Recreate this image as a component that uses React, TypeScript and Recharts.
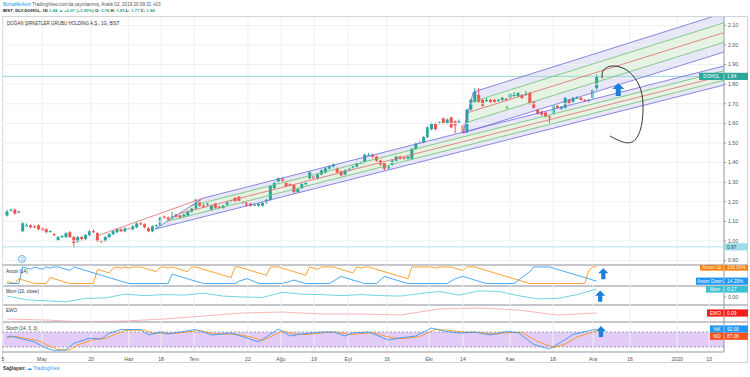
import React from 'react';
import { ComposedChart, Bar, Line, Area, XAxis, YAxis, ReferenceLine, ReferenceDot, Scatter } from 'recharts';

// ---------- DATA ----------
const opens = [1.13,1.155,1.16,1.15,1.05,1.08,1.08,1.075,1.08,1.065,1.06,1.05,1.035,1.005,1.02,1.02,1.045,1.02,0.995,1.02,1.01,1.03,1.05,1.04,1.0,1.0,1.02,1.035,1.045,1.06,1.05,1.065,1.06,1.07,1.09,1.085,1.065,1.05,1.075,1.08,1.125,1.12,1.12,1.135,1.13,1.125,1.13,1.15,1.165,1.205,1.18,1.185,1.16,1.19,1.175,1.17,1.185,1.2,1.22,1.225,1.2,1.2,1.19,1.185,1.18,1.18,1.195,1.21,1.27,1.3,1.32,1.3,1.29,1.285,1.25,1.27,1.29,1.32,1.33,1.32,1.34,1.35,1.37,1.38,1.37,1.355,1.34,1.36,1.375,1.38,1.4,1.4,1.44,1.44,1.43,1.41,1.4,1.37,1.39,1.41,1.43,1.425,1.42,1.42,1.47,1.5,1.5,1.53,1.57,1.6,1.6,1.625,1.6,1.63,1.61,1.61,1.59,1.555,1.67,1.71,1.745,1.72,1.72,1.72,1.72,1.715,1.72,1.725,1.73,1.74,1.74,1.745,1.75,1.755,1.71,1.67,1.66,1.655,1.635,1.65,1.69,1.675,1.68,1.72,1.71,1.73,1.73,1.72,1.715,1.73,1.78];
const highs = [1.16,1.165,1.165,1.155,1.095,1.09,1.085,1.08,1.085,1.07,1.065,1.055,1.04,1.025,1.03,1.045,1.05,1.025,1.025,1.025,1.035,1.055,1.06,1.045,1.005,1.025,1.04,1.055,1.065,1.065,1.07,1.07,1.08,1.095,1.1,1.09,1.07,1.08,1.085,1.125,1.13,1.125,1.15,1.14,1.135,1.14,1.155,1.17,1.215,1.21,1.19,1.195,1.185,1.195,1.18,1.185,1.205,1.21,1.225,1.23,1.205,1.205,1.195,1.19,1.195,1.2,1.215,1.285,1.305,1.325,1.325,1.305,1.295,1.29,1.27,1.295,1.305,1.355,1.335,1.345,1.365,1.375,1.385,1.395,1.375,1.36,1.365,1.375,1.385,1.405,1.405,1.445,1.45,1.445,1.435,1.415,1.405,1.385,1.415,1.435,1.435,1.43,1.435,1.475,1.505,1.51,1.535,1.585,1.605,1.605,1.61,1.63,1.625,1.635,1.615,1.62,1.595,1.675,1.725,1.78,1.78,1.725,1.73,1.725,1.725,1.725,1.735,1.73,1.755,1.76,1.76,1.75,1.765,1.76,1.715,1.675,1.665,1.66,1.64,1.695,1.695,1.69,1.735,1.725,1.735,1.74,1.735,1.725,1.725,1.775,1.85];
const lows = [1.125,1.15,1.135,1.145,1.045,1.075,1.065,1.065,1.055,1.05,1.04,1.045,1.025,1.0,1.015,1.015,1.015,0.965,0.99,1.0,1.005,1.025,1.04,0.995,0.99,0.995,1.015,1.03,1.04,1.045,1.045,1.055,1.055,1.065,1.08,1.065,1.045,1.045,1.07,1.075,1.115,1.105,1.115,1.12,1.115,1.12,1.125,1.145,1.16,1.175,1.17,1.18,1.155,1.165,1.165,1.165,1.18,1.195,1.195,1.2,1.19,1.175,1.175,1.18,1.175,1.175,1.19,1.205,1.265,1.295,1.3,1.275,1.28,1.245,1.245,1.265,1.285,1.315,1.315,1.315,1.335,1.345,1.365,1.375,1.345,1.33,1.335,1.355,1.37,1.375,1.395,1.395,1.435,1.425,1.405,1.385,1.36,1.365,1.385,1.405,1.415,1.415,1.415,1.415,1.465,1.495,1.495,1.525,1.565,1.565,1.595,1.595,1.595,1.575,1.55,1.6,1.545,1.55,1.665,1.705,1.705,1.685,1.71,1.705,1.705,1.71,1.715,1.715,1.725,1.735,1.735,1.725,1.74,1.695,1.675,1.645,1.64,1.63,1.6,1.645,1.675,1.67,1.675,1.695,1.705,1.725,1.715,1.71,1.71,1.725,1.77];
const closes = [1.15,1.16,1.14,1.15,1.09,1.08,1.07,1.07,1.06,1.055,1.045,1.05,1.03,1.02,1.025,1.04,1.02,0.99,1.02,1.01,1.03,1.05,1.045,1.0,0.995,1.02,1.035,1.05,1.06,1.05,1.065,1.06,1.075,1.09,1.085,1.07,1.05,1.075,1.08,1.12,1.12,1.11,1.125,1.125,1.12,1.135,1.15,1.165,1.21,1.18,1.175,1.19,1.18,1.17,1.17,1.18,1.2,1.205,1.2,1.205,1.195,1.18,1.18,1.185,1.19,1.195,1.21,1.28,1.3,1.32,1.305,1.28,1.285,1.25,1.265,1.29,1.3,1.35,1.32,1.34,1.36,1.37,1.38,1.39,1.35,1.335,1.36,1.37,1.38,1.4,1.4,1.44,1.44,1.43,1.41,1.39,1.37,1.38,1.41,1.43,1.42,1.42,1.43,1.47,1.5,1.5,1.53,1.58,1.6,1.57,1.605,1.6,1.62,1.58,1.59,1.61,1.55,1.67,1.72,1.76,1.71,1.69,1.72,1.71,1.71,1.72,1.73,1.72,1.75,1.745,1.755,1.73,1.75,1.7,1.68,1.65,1.645,1.635,1.63,1.69,1.68,1.685,1.73,1.7,1.73,1.73,1.72,1.715,1.72,1.77,1.84];

const tickIdx = [-1, 8.9, 21.4, 31, 39.2, 47.6, 61.3, 69.7, 78.1, 86.8, 96.7, 107.4, 116, 128, 138.9, 149.1, 158.5, 170.5, 178.6];
const tickLabels = ['5', 'May', '20', 'Haz', '18', 'Tem', '22', 'Ağu', '19', 'Eyl', '16', 'Eki', '14', 'Kas', '18', 'Ara', '16', '2020', '13'];
const priceTicks = [0.9, 1.0, 1.1, 1.2, 1.3, 1.4, 1.5, 1.6, 1.7, 1.8, 1.9, 2.0, 2.1];

// pitchfork-like channels: [barIndex, price] anchors
const ch1Bottom: [number, number][] = [[37.7, 1.061], [182.4, 1.796]];
const ch1Top: [number, number][] = [[49.9, 1.219], [182.4, 1.893]];
const ch1Handle: [number, number][] = [[22.9, 1.026], [49.9, 1.219]];
const ch2Bottom: [number, number][] = [[116.0, 1.551], [182.4, 1.964]];
const ch2Top: [number, number][] = [[118.6, 1.76], [182.4, 2.163]];

// indicators, sampled [barIndex, value]
const aroonUp: [number, number][] = [[0,14],[2,0],[3,29],[5,14],[7,0],[10,0],[11,36],[14,14],[16,0],[22,0],[23,86],[26,64],[27,93],[28,100],[29,93],[30,100],[31,93],[32,100],[34,100],[38,71.4],[39,100],[40,100],[41,93],[42,100],[46,71.4],[47,100],[48,100],[57,35.7],[58,100],[59,100],[66,50],[67,100],[69,100],[76,50],[77,100],[79,85.7],[80,100],[83,100],[88,64],[89,100],[90,93],[91,100],[92,100],[102,28.6],[103,100],[108,100],[109,93],[110,100],[113,100],[116,78.6],[117,100],[119,100],[133,0],[147,0],[148,78.6],[149,100],[150,100]];
const aroonDown: [number, number][] = [[0,0],[3,0],[4,100],[6,86],[7,100],[9,86],[10,100],[11,93],[12,100],[13,100],[16,79],[17,100],[31,0],[41,0],[42,57],[50,0],[58,0],[59,14],[61,29],[62,21],[64,0],[70,0],[73,21],[76,0],[82,0],[85,43],[88,21],[91,0],[94,0],[96,43],[99,21],[102,0],[112,0],[114,29],[116,43],[119,21],[122,0],[129,0],[133,71],[134,100],[138,100],[150,14.29]];
const momentum: [number, number][] = [[0,0.02],[5,-0.06],[10,-0.08],[15,-0.1],[20,-0.03],[25,-0.02],[30,0.06],[35,0.03],[40,0.05],[45,0.04],[50,0.08],[55,0.02],[60,0.0],[65,-0.01],[70,0.1],[75,0.06],[80,0.05],[85,0.03],[90,0.05],[95,0.03],[100,0.02],[105,0.07],[110,0.12],[115,0.04],[120,0.13],[125,0.12],[130,0.03],[135,-0.04],[140,-0.03],[145,0.05],[150,0.17]];
const ewo: [number, number][] = [[0,0.03],[10,0.02],[20,0.0],[30,0.01],[40,0.03],[50,0.06],[60,0.09],[70,0.1],[80,0.08],[90,0.08],[100,0.07],[110,0.13],[120,0.14],[130,0.12],[140,0.07],[150,0.09]];
const stochK: [number, number][] = [[0,60],[1,64],[7,40],[10,15],[12,6],[15,8],[17,35],[21,55],[24,52],[26,75],[29,90],[34,90],[36,68],[39,80],[41,72],[48,90],[52,68],[57,76],[61,56],[64,40],[69,92],[72,64],[75,72],[80,80],[83,80],[86,64],[88,76],[92,80],[97,48],[100,56],[104,64],[108,96],[111,84],[115,76],[119,80],[123,68],[127,82],[130,78],[134,30],[138,12],[141,40],[144,70],[148,85],[150,92]];
const stochD: [number, number][] = [[0,58],[2,62],[8,45],[11,22],[13,10],[16,8],[18,28],[22,50],[25,54],[27,68],[30,86],[35,88],[37,74],[40,76],[42,74],[49,86],[53,72],[58,72],[62,60],[65,46],[70,84],[73,72],[76,70],[81,78],[84,80],[87,70],[89,72],[93,78],[98,56],[101,54],[105,62],[109,90],[112,88],[116,80],[120,78],[124,72],[128,78],[131,78],[135,42],[139,18],[142,32],[145,60],[149,80],[150,87.06]];

// hand-drawn annotation curve [barIndex, price]
const noteCurve: [number, number][] = [[151.4,1.83],[151.7,1.87],[154,1.893],[158,1.867],[161.1,1.78],[161.8,1.668],[161.1,1.566],[159,1.505],[156,1.51],[153.4,1.536]];

// ---------- STYLE ----------
const GREEN = '#26a69a';
const RED = '#ef5350';
const GRID = '#edf0f5';
const FONT = '"Liberation Sans", Arial, sans-serif';
const X_DOMAIN: [number, number] = [-1.27, 182.4];
const PURPLE = '#6d6bd8';
const LAV = '#e8e7f8';
const GLINE = '#6cc070';
const GFILL = '#e4f3e2';
const MED = '#e26a6a';

const candles = opens.map((o, i) => ({ x: i, open: o, high: highs[i], low: lows[i], close: closes[i], range: [lows[i], highs[i]] }));
const toPts = (arr: [number, number][]) => arr.map(([x, v]) => ({ x, v }));

type Ch = { bottom: [number, number][]; top: [number, number][] };
const ch1: Ch = { bottom: ch1Bottom, top: ch1Top };
const ch2: Ch = { bottom: ch2Bottom, top: ch2Top };
const lerp = (a: number, b: number, t: number) => a + (b - a) * t;
const lvlStart = (c: Ch, f: number): [number, number] => [lerp(c.bottom[0][0], c.top[0][0], f), lerp(c.bottom[0][1], c.top[0][1], f)];
const lvlEnd = (c: Ch, f: number): [number, number] => [c.bottom[1][0], lerp(c.bottom[1][1], c.top[1][1], f)];
const lvlAt = (c: Ch, f: number, x: number) => {
  const s = lvlStart(c, f), e = lvlEnd(c, f);
  return lerp(s[1], e[1], (x - s[0]) / (e[0] - s[0]));
};
const band = (c: Ch, f1: number, f2: number) => {
  const s1 = lvlStart(c, f1), s2 = lvlStart(c, f2), e1 = lvlEnd(c, f1), e2 = lvlEnd(c, f2);
  return [
    { x: s1[0], r: [s1[1], s1[1]] },
    { x: s2[0], r: [lvlAt(c, f1, s2[0]), s2[1]] },
    { x: e1[0], r: [e1[1], e2[1]] },
  ];
};
const lvlLine = (c: Ch, f: number) => {
  const s = lvlStart(c, f), e = lvlEnd(c, f);
  return [{ x: s[0], v: s[1] }, { x: e[0], v: e[1] }];
};
const LEVELS: [number, string][] = [[0, PURPLE], [0.25, GLINE], [0.5, MED], [0.75, GLINE], [1, PURPLE]];

const Candle = (props: any) => {
  let { x, y, width, height, payload } = props;
  if (!payload) return null;
  if (height < 0) { y = y + height; height = -height; }
  const { open, close, high, low } = payload;
  const color = close >= open ? GREEN : RED;
  const k = height / (high - low);
  const yOf = (v: number) => y + (high - v) * k;
  const cx = x + width / 2;
  const bw = 3;
  const bt = yOf(Math.max(open, close));
  const bb = yOf(Math.min(open, close));
  return (
    <g>
      <line x1={cx} x2={cx} y1={y} y2={y + height} stroke={color} strokeWidth={1} />
      <rect x={cx - bw / 2} y={bt} width={bw} height={Math.max(1, bb - bt)} fill={color} />
    </g>
  );
};

const Tag = ({ cx, cy, name, value, color, text = '#fff', nameW = 0, dy = 0 }: any) => {
  const y = cy + dy;
  return (
    <g fontFamily={FONT}>
      <rect x={cx - nameW} y={y - 3.6} width={nameW + 24} height={7.2} fill={color} />
      {nameW > 0 && <text x={cx - nameW / 2} y={y + 1.7} fontSize={4.6} fill={text} textAnchor="middle">{name}</text>}
      {nameW > 0 && <line x1={cx} x2={cx} y1={y - 3.6} y2={y + 3.6} stroke="#fff" strokeWidth={0.5} />}
      <text x={cx + 3} y={y + 1.8} fontSize={4.8} fill={text}>{value}</text>
    </g>
  );
};

const Arrow = ({ cx, cy, s = 1 }: any) => (
  <path
    d={`M${cx} ${cy - 7 * s} L${cx + 6 * s} ${cy - 1 * s} L${cx + 2.5 * s} ${cy - 1 * s} L${cx + 2.5 * s} ${cy + 6 * s} L${cx - 2.5 * s} ${cy + 6 * s} L${cx - 2.5 * s} ${cy - 1 * s} L${cx - 6 * s} ${cy - 1 * s} Z`}
    fill="#1e7fd8"
  />
);

const Tri = ({ cx, cy }: any) => <path d={`M${cx} ${cy - 2} L${cx + 2} ${cy + 1.5} L${cx - 2} ${cy + 1.5} Z`} fill="#7cc96e" />;

const gridX = tickIdx.map((t) => <ReferenceLine key={'gx' + t} x={t} stroke={GRID} strokeWidth={1} />);

const tickStyle = { fontSize: 5.2, fill: '#50535e', fontFamily: FONT };

const paneAxisY = (domain: [number, number], ticks?: number[], fmt?: (v: number) => string) => (
  <YAxis
    orientation="right"
    width={26}
    domain={domain}
    allowDataOverflow
    ticks={ticks || []}
    tick={ticks ? tickStyle : false}
    tickFormatter={fmt}
    tickSize={2}
    axisLine={{ stroke: '#9598a1' }}
    tickLine={{ stroke: '#9598a1' }}
  />
);

const hiddenX = <XAxis type="number" dataKey="x" domain={X_DOMAIN} allowDataOverflow hide />;

export default function App() {
  return (
    <div style={{ position: 'absolute', left: 0, top: 0, width: 750, height: 377, background: '#fff', overflow: 'hidden', fontFamily: FONT }}>
      {/* header */}
      <div style={{ position: 'absolute', left: 3, top: 2, fontSize: 4.6, color: '#555', whiteSpace: 'nowrap' }}>
        <span style={{ color: '#2196f3' }}>BorsaMerkezi</span> TradingView.com'da yayınlanmış, Aralık 02, 2019 20:09:31 +03
      </div>
      <div style={{ position: 'absolute', left: 3, top: 8, fontSize: 4.3, color: '#222', fontWeight: 'bold', whiteSpace: 'nowrap' }}>
        BIST_DLY:DOHOL, 1D <span style={{ color: GREEN }}>1.84 ▲ +0.07 (+3.95%)</span> O: <span style={{ color: GREEN }}>1.78</span> H: <span style={{ color: GREEN }}>1.85</span> L: <span style={{ color: GREEN }}>1.77</span> C: <span style={{ color: GREEN }}>1.84</span>
      </div>
      {/* frame */}
      <div style={{ position: 'absolute', left: 2, top: 16, width: 746, height: 347, border: '1px solid #d1d4dc', boxSizing: 'border-box' }} />

      {/* main pane */}
      <div style={{ position: 'absolute', left: 0, top: 0 }}>
        <ComposedChart width={750} height={265} data={candles} margin={{ top: 17, right: 0, bottom: 1, left: 2 }}>
          {hiddenX}
          <YAxis
            orientation="right"
            width={26}
            domain={[0.8827, 2.1429]}
            allowDataOverflow
            ticks={priceTicks}
            tickFormatter={(v: number) => v.toFixed(2)}
            tick={tickStyle}
            tickSize={2}
            axisLine={{ stroke: '#9598a1' }}
            tickLine={{ stroke: '#9598a1' }}
          />
          {gridX}
          {priceTicks.map((p) => <ReferenceLine key={'gy' + p} y={p} stroke={GRID} strokeWidth={1} />)}
          {[ch1, ch2].map((c, ci) => (
            <Area key={'pf' + ci} data={band(c, 0, 1)} dataKey="r" type="linear" stroke="none" fill={LAV} fillOpacity={1} isAnimationActive={false} />
          ))}
          {[ch1, ch2].map((c, ci) => (
            <Area key={'gf' + ci} data={band(c, 0.25, 0.75)} dataKey="r" type="linear" stroke="none" fill={GFILL} fillOpacity={1} isAnimationActive={false} />
          ))}
          <ReferenceLine y={0.97} stroke="#b6e2ee" strokeWidth={1} />
          <ReferenceLine y={1.84} stroke="#98d6d6" strokeWidth={1} />
          {[ch1, ch2].map((c, ci) =>
            LEVELS.map(([f, col]) => (
              <Line key={'l' + ci + f} data={lvlLine(c, f)} dataKey="v" type="linear" stroke={col} strokeWidth={0.8} dot={false} isAnimationActive={false} />
            ))
          )}
          {[ch1, ch2].map((c, ci) => (
            <Line key={'edge' + ci} data={[{ x: c.bottom[0][0], v: c.bottom[0][1] }, { x: c.top[0][0], v: c.top[0][1] }]} dataKey="v" type="linear" stroke={PURPLE} strokeWidth={0.8} dot={false} isAnimationActive={false} />
          ))}
          <Line data={toPts(ch1Handle)} dataKey="v" type="linear" stroke={MED} strokeWidth={0.8} dot={false} isAnimationActive={false} />
          <Bar dataKey="range" shape={<Candle />} barSize={3} isAnimationActive={false} />
          <Scatter data={toPts(noteCurve)} dataKey="v" line={{ stroke: '#222', strokeWidth: 0.9 }} lineJointType="natural" shape={() => <g />} isAnimationActive={false} />
          <ReferenceDot x={127.2} y={1.684} r={2} shape={(p: any) => <Tri {...p} />} />
          <ReferenceDot x={155.5} y={1.77} r={2} shape={(p: any) => <Arrow {...p} />} />
          <ReferenceDot x={X_DOMAIN[1]} y={1.84} r={2} shape={(p: any) => <Tag {...p} name="DOHOL" value="1.84" color="#2aa89a" nameW={25} />} />
          <ReferenceDot x={X_DOMAIN[1]} y={0.97} r={2} shape={(p: any) => <Tag {...p} value="0.97" color="#9fdcea" text="#1b4b57" />} />
        </ComposedChart>
      </div>
      <div style={{ position: 'absolute', left: 7, top: 21, fontSize: 4.5, color: '#333', whiteSpace: 'nowrap' }}>DOĞAN ŞİRKETLER GRUBU HOLDİNG A.Ş., 1G, BIST</div>
      <div style={{ position: 'absolute', left: 18, top: 255, width: 8, height: 8, borderRadius: 5, border: '0.8px solid #64b5f6', boxSizing: 'border-box', fontSize: 4.5, color: '#64b5f6', textAlign: 'center', lineHeight: '7px' }}>D</div>

      {/* separators */}
      {[265, 286, 305, 322].map((y) => (
        <div key={y} style={{ position: 'absolute', left: 2, top: y - 0.75, width: 746, height: 1.5, background: '#c4c6cc' }} />
      ))}

      {/* Aroon */}
      <div style={{ position: 'absolute', left: 0, top: 265 }}>
        <ComposedChart width={750} height={21} margin={{ top: 0, right: 0, bottom: 0, left: 2 }}>
          {hiddenX}
          {paneAxisY([-15, 112])}
          {gridX}
          <Line data={toPts(aroonUp)} dataKey="v" type="linear" stroke="#fb8c00" strokeWidth={0.8} dot={false} isAnimationActive={false} />
          <Line data={toPts(aroonDown)} dataKey="v" type="linear" stroke="#2196f3" strokeWidth={0.8} dot={false} isAnimationActive={false} />
          <ReferenceDot x={151.7} y={57} r={2} shape={(p: any) => <Arrow {...p} s={0.85} />} />
          <ReferenceDot x={X_DOMAIN[1]} y={100} r={2} shape={(p: any) => <Tag {...p} name="Aroon Up" value="100.00%" color="#f57c00" nameW={24} />} />
          <ReferenceDot x={X_DOMAIN[1]} y={14.29} r={2} shape={(p: any) => <Tag {...p} name="Aroon Down" value="14.29%" color="#2196f3" nameW={28} />} />
        </ComposedChart>
      </div>
      <div style={{ position: 'absolute', left: 6, top: 269, fontSize: 4.6, color: '#333' }}>Aroon (14)</div>

      {/* Mom */}
      <div style={{ position: 'absolute', left: 0, top: 286 }}>
        <ComposedChart width={750} height={19} margin={{ top: 0, right: 0, bottom: 0, left: 2 }}>
          {hiddenX}
          {paneAxisY([-0.17, 0.234], [0], (v: number) => v.toFixed(2))}
          {gridX}
          <Line data={toPts(momentum)} dataKey="v" type="linear" stroke="#4dc9db" strokeWidth={0.8} dot={false} isAnimationActive={false} />
          <ReferenceDot x={150.9} y={0.01} r={2} shape={(p: any) => <Arrow {...p} s={0.85} />} />
          <ReferenceDot x={X_DOMAIN[1]} y={0.17} r={2} shape={(p: any) => <Tag {...p} name="Mom" value="0.17" color="#3cc1d2" nameW={18} />} />
        </ComposedChart>
      </div>
      <div style={{ position: 'absolute', left: 6, top: 289, fontSize: 4.6, color: '#333' }}>Mom (10, close)</div>

      {/* EWO */}
      <div style={{ position: 'absolute', left: 0, top: 305 }}>
        <ComposedChart width={750} height={17} margin={{ top: 0, right: 0, bottom: 0, left: 2 }}>
          {hiddenX}
          {paneAxisY([0, 0.17])}
          {gridX}
          <Line data={toPts(ewo)} dataKey="v" type="linear" stroke="#f4a3a3" strokeWidth={0.8} dot={false} isAnimationActive={false} />
          <ReferenceDot x={X_DOMAIN[1]} y={0.09} r={2} shape={(p: any) => <Tag {...p} name="EWO" value="0.09" color="#f21d1d" nameW={17} />} />
        </ComposedChart>
      </div>
      <div style={{ position: 'absolute', left: 6, top: 308, fontSize: 4.6, color: '#333' }}>EWO</div>

      {/* Stoch */}
      <div style={{ position: 'absolute', left: 0, top: 322 }}>
        <ComposedChart width={750} height={42} margin={{ top: 0, right: 0, bottom: 0, left: 2 }}>
          <XAxis
            type="number"
            dataKey="x"
            domain={X_DOMAIN}
            allowDataOverflow
            ticks={tickIdx}
            interval={0}
            tickFormatter={(v: number) => tickLabels[tickIdx.indexOf(v)] ?? ''}
            tick={tickStyle}
            tickLine={false}
            tickSize={3}
            height={12}
            axisLine={{ stroke: '#9598a1' }}
          />
          {paneAxisY([0, 120])}
          {gridX}
          <Area data={[{ x: X_DOMAIN[0], r: [20, 80] }, { x: X_DOMAIN[1], r: [20, 80] }]} dataKey="r" type="linear" stroke="none" fill="#e3cdf8" fillOpacity={1} isAnimationActive={false} />
          <ReferenceLine y={80} stroke="#8a8d96" strokeDasharray="2 2" strokeWidth={0.8} />
          <ReferenceLine y={20} stroke="#8a8d96" strokeDasharray="2 2" strokeWidth={0.8} />
          <Line data={toPts(stochD)} dataKey="v" type="linear" stroke="#fb8c00" strokeWidth={0.8} dot={false} isAnimationActive={false} />
          <Line data={toPts(stochK)} dataKey="v" type="linear" stroke="#2196f3" strokeWidth={0.8} dot={false} isAnimationActive={false} />
          <ReferenceDot x={151.1} y={80} r={2} shape={(p: any) => <Arrow {...p} s={0.85} />} />
          <ReferenceDot x={X_DOMAIN[1]} y={92} r={2} shape={(p: any) => <Tag {...p} name="%K" value="92.00" color="#2196f3" nameW={14} />} />
          <ReferenceDot x={X_DOMAIN[1]} y={87.06} r={2} shape={(p: any) => <Tag {...p} name="%D" value="87.06" color="#f4511e" nameW={14} dy={6} />} />
        </ComposedChart>
      </div>
      <div style={{ position: 'absolute', left: 6, top: 326, fontSize: 4.6, color: '#333' }}>Stoch (14, 3, 3)</div>

      {/* footer */}
      <div style={{ position: 'absolute', left: 3, top: 366, fontSize: 4.8, color: '#333', whiteSpace: 'nowrap' }}>
        <b>Sağlayan:</b> <span style={{ color: '#2196f3' }}>☁ TradingView</span>
      </div>
    </div>
  );
}
